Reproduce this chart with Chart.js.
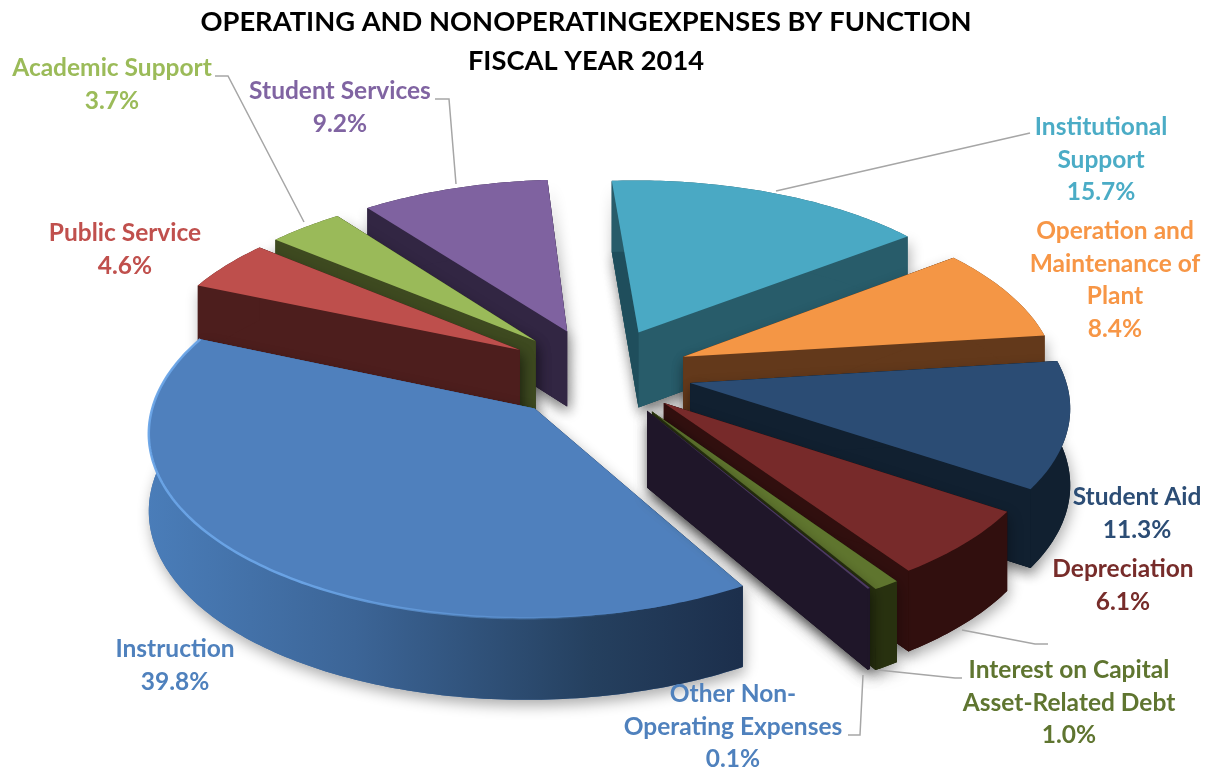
<!DOCTYPE html>
<html><head><meta charset="utf-8">
<style>html,body{margin:0;padding:0;background:#fff}canvas{display:block}</style>
<script src="https://cdn.jsdelivr.net/npm/chart.js@4"></script>
</head><body><canvas id="c" width="1214" height="771"></canvas>
<script>
const categories = ["Institutional Support","Operation and Maintenance of Plant","Student Aid","Depreciation","Interest on Capital Asset-Related Debt","Other Non-Operating Expenses","Instruction","Public Service","Academic Support","Student Services"];
const values = [15.7,8.4,11.3,6.1,1.0,0.1,39.8,4.6,3.7,9.2];
const titleLines = ["OPERATING AND NONOPERATINGEXPENSES BY FUNCTION","FISCAL YEAR 2014"];
const labelLines = [["Institutional","Support"],["Operation and","Maintenance of","Plant"],["Student Aid"],["Depreciation"],["Interest on Capital","Asset-Related Debt"],["Other Non-","Operating Expenses"],["Instruction"],["Public Service"],["Academic Support"],["Student Services"]];

const topColors  = ["#4AA9C4","#F49645","#2B4C74","#772A2A","#5F752E","#4D3B62","#4F80BD","#BE4F4C","#9ABA59","#7F62A0"];
const wallColors = ["#285C6A","#63391B","#112030","#310F0E","#28310F","#1F1629","#3F6CA5","#4D1E1D","#3E4A20","#322643"];
const startCutColors = ["#1F4E5C","#63391B","#112030","#310F0E","#28310F","#1F1629","#1D304C","#4D1E1D","#3E4A20","#322643"];
const endCutColors = ["#285C6A","#63391B","#112030","#310F0E","#28310F","#1F1629","#3F6CA5","#4D1E1D","#3E4A20","#322643"];
const textColors = ["#4BACC6","#F79646","#2C4D75","#772C2A","#5F7530","#4F81BD","#4F81BD","#C0504D","#9BBB59","#8064A2"];
const explode = [96,91,92,88,94,90,97,95,95,96];
const labelPos = [[1101,127],[1115,231],[1137,497],[1123,569],[1069,670],[733,694],[175,649],[125,233],[112,68],[340,91]];
const leaders = [[[1030,133],[776,191]],[[962,630],[1035,644],[1048,644]],[[878,670],[955,678],[962,678]],[[848,735],[860,735],[863,675]],[[215,76],[228,76],[304,222]],[[435,99],[449,99],[456,184]]];

const view = {cx:600, cy:373, tilt:0.475, persp:0.0003, R:374, h:76};
function proj(X,Y,z){
  const s = 1/(1-view.persp*Y);
  return [view.cx + X*s, view.cy + view.tilt*Y*s + z*Math.sqrt(s)];
}
function poly(ctx,pts){ctx.beginPath();pts.forEach((p,i)=>i?ctx.lineTo(p[0],p[1]):ctx.moveTo(p[0],p[1]));ctx.closePath();}

const pie3d = {
  id:'pie3d',
  beforeDatasetsDraw(chart){
    const ctx = chart.ctx, arcs = chart.getDatasetMeta(0).data;
    const order = arcs.map((a,i)=>{
      const mid=(a.startAngle+a.endAngle)/2; return {a,i,mid,key:Math.sin(mid)};
    }).sort((p,q)=>p.key-q.key);
    ctx.save();
    for(const {a,i,mid} of order){
      const off = a.options.offset, ox = Math.cos(mid)*off, oy = Math.sin(mid)*off, R = view.R;
      const n = Math.max(3,Math.ceil((a.endAngle-a.startAngle)*60));
      const rimW=[];
      for(let j=0;j<=n;j++){const t=a.startAngle+(a.endAngle-a.startAngle)*j/n; rimW.push([ox+R*Math.cos(t),oy+R*Math.sin(t)]);}
      const top = rimW.map(p=>proj(p[0],p[1],0));
      const bot = rimW.map(p=>proj(p[0],p[1],view.h));
      const apexT = proj(ox,oy,0), apexB = proj(ox,oy,view.h);
      ctx.save();
      ctx.shadowColor='rgba(0,0,0,0.32)';ctx.shadowBlur=14;ctx.shadowOffsetX=2;ctx.shadowOffsetY=6;
      ctx.fillStyle=wallColors[i];
      poly(ctx,[apexB,...bot]);ctx.fill();
      poly(ctx,[apexT,top[0],bot[0],apexB]);ctx.fill();
      poly(ctx,[apexT,top[n],bot[n],apexB]);ctx.fill();
      ctx.restore();
      ctx.fillStyle=endCutColors[i];
      poly(ctx,[apexT,top[n],bot[n],apexB]);ctx.fill();
      ctx.fillStyle=startCutColors[i];
      poly(ctx,[apexT,top[0],bot[0],apexB]);ctx.fill();
      let fill=wallColors[i];
      if(i===6){const g=ctx.createLinearGradient(147,0,740,0);g.addColorStop(0,'#4A7DB9');g.addColorStop(0.35,'#3C6597');g.addColorStop(0.75,'#25405F');g.addColorStop(1,'#1C2F4C');fill=g;}
      ctx.fillStyle=fill;
      poly(ctx,[...top,...bot.slice().reverse()]);ctx.fill();
      ctx.fillStyle=topColors[i];
      poly(ctx,[apexT,...top]);ctx.fill();
      if(i===6){
        const hl=ctx.createLinearGradient(300,0,640,0);
        hl.addColorStop(0,'rgba(107,165,231,0.95)');hl.addColorStop(1,'rgba(107,165,231,0)');
        ctx.save();ctx.strokeStyle=hl;ctx.lineWidth=2.5;
        ctx.beginPath();top.forEach((p,j)=>j?ctx.lineTo(p[0],p[1]):ctx.moveTo(p[0],p[1]));ctx.stroke();ctx.restore();
      }
    }
    ctx.restore();
    return false;
  },
  afterDraw(chart){
    const ctx=chart.ctx;
    ctx.save();
    ctx.strokeStyle='#A6A6A6';ctx.lineWidth=1.5;
    leaders.forEach(l=>{ctx.beginPath();l.forEach((p,j)=>j?ctx.lineTo(p[0],p[1]):ctx.moveTo(p[0],p[1]));ctx.stroke();});
    ctx.textAlign='center';ctx.textBaseline='middle';ctx.font='bold 24.5px Lato, "Open Sans", sans-serif';
    categories.forEach((_,i)=>{
      ctx.fillStyle=textColors[i];
      const lines=[...labelLines[i],values[i].toFixed(1)+'%'];
      lines.forEach((t,j)=>ctx.fillText(t,labelPos[i][0],labelPos[i][1]+j*32.7));
    });
    ctx.restore();
  }
};

new Chart(document.getElementById('c'),{
  type:'pie',
  data:{labels:categories,datasets:[{data:values,backgroundColor:topColors,offset:explode,borderWidth:0}]},
  options:{
    responsive:false,animation:false,rotation:-4,
    layout:{padding:{right:42,top:3}},
    plugins:{
      legend:{display:false},tooltip:{enabled:false},
      title:{display:true,text:titleLines,color:'#000',font:{family:'Lato, "Open Sans", sans-serif',size:27.3,weight:'bold',lineHeight:1.43},padding:{top:0,bottom:0}}
    }
  },
  plugins:[pie3d]
});
</script></body></html>
